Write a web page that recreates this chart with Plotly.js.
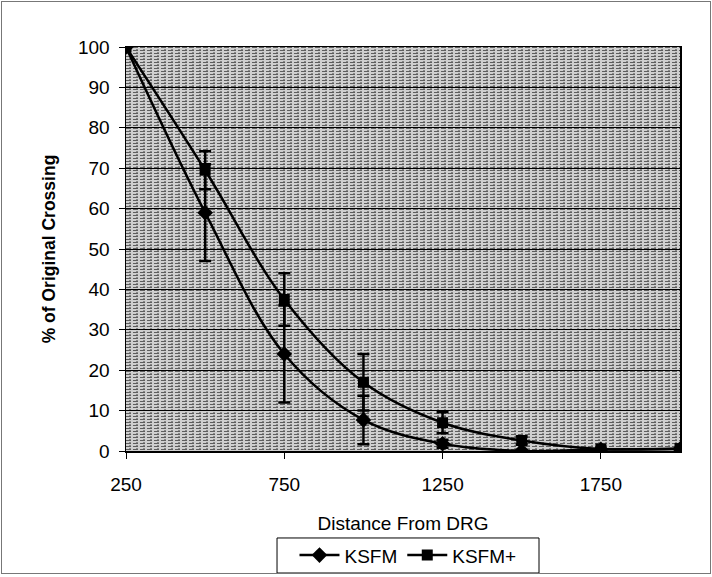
<!DOCTYPE html>
<html>
<head>
<meta charset="utf-8">
<script src="https://cdn.plot.ly/plotly-3.0.1.min.js"></script>
<style>
  html, body { margin: 0; padding: 0; background: #fff; }
  #wrap { position: relative; width: 712px; height: 577px; }
  #chart { width: 712px; height: 577px; }
  #frame { position: absolute; left: 1px; top: 1px; width: 708px; height: 571px;
           border: 1px solid #777; pointer-events: none; }
</style>
</head>
<body>
<div id="wrap"><div id="chart"></div><div id="frame"></div></div>
<script>
// ---- data ----
const distance = [250, 500, 750, 1000, 1250, 1500, 1750, 2000];
const ksfm = [100, 59, 24, 7.7, 1.8, 0, 0.4, 0.5];
const ksfmErr = [0, 12, 12, 6, 1, 0.3, 0, 0];
const ksfmPlus = [100, 69.5, 37.5, 17, 7, 2.6, 0.5, 0.6];
const ksfmPlusErr = [0, 4.7, 6.5, 7, 2.6, 1, 0, 0];
const xTickVals = [250, 750, 1250, 1750];
const seriesNames = ['KSFM', 'KSFM+'];

const FONT = 'Arial, "Liberation Sans", sans-serif';

// stippled grey background texture (style only)
function bgTexture() {
  let s = '<svg xmlns="http://www.w3.org/2000/svg" width="554" height="404">' +
          '<defs><pattern id="p" width="7" height="3" patternUnits="userSpaceOnUse">' +
          '<rect width="7" height="3" fill="#cfcfcf"/>' +
          '<rect x="0" y="0" width="5" height="1" fill="#5e5e5e"/>' +
          '<rect x="3" y="2" width="2" height="1" fill="#868686"/>' +
          '</pattern></defs>' +
          '<rect width="554" height="404" fill="url(#p)"/></svg>';
  return 'data:image/svg+xml;base64,' + btoa(s);
}

const traces = [
  {
    x: distance, y: ksfm, name: seriesNames[0], type: 'scatter', mode: 'lines+markers',
    line: { color: '#000', width: 2.5, shape: 'spline', smoothing: 1 },
    marker: { symbol: 'diamond', size: 12, color: '#000' },
    error_y: { type: 'data', array: ksfmErr, visible: true, color: '#000', thickness: 2.5, width: 6 }
  },
  {
    x: distance, y: ksfmPlus, name: seriesNames[1], type: 'scatter', mode: 'lines+markers',
    line: { color: '#000', width: 2.5, shape: 'spline', smoothing: 1 },
    marker: { symbol: 'square', size: 11, color: '#000' },
    error_y: { type: 'data', array: ksfmPlusErr, visible: true, color: '#000', thickness: 2.5, width: 6 }
  }
];

const layout = {
  width: 712, height: 577,
  margin: { l: 126, r: 32, t: 47, b: 126, autoexpand: false },
  paper_bgcolor: '#fff',
  plot_bgcolor: '#b4b4b4',
  font: { family: FONT, size: 19, color: '#000' },
  showlegend: true,
  legend: {
    orientation: 'h', x: 0.509, xanchor: 'center', y: -0.258, yanchor: 'middle',
    bgcolor: 'rgba(0,0,0,0)', borderwidth: 0,
    font: { family: FONT, size: 19, color: '#000' },
    itemwidth: 40, tracegroupgap: 0
  },
  xaxis: {
    range: [250, 2000], tickmode: 'array', tickvals: xTickVals,
    ticktext: xTickVals.map(String),
    ticks: 'outside', ticklen: 6, tickcolor: '#000', tickwidth: 1,
    ticklabelstandoff: 10,
    showgrid: false, zeroline: false, automargin: false,
    showline: true, linecolor: '#000', linewidth: 1.5, mirror: true,
    tickfont: { family: FONT, size: 19, color: '#000' },
    title: { text: 'Distance From DRG', font: { family: FONT, size: 19, color: '#000' }, standoff: 22 }
  },
  yaxis: {
    range: [0, 100], dtick: 10, tick0: 0,
    ticks: 'outside', ticklen: 6, tickcolor: '#000', tickwidth: 1,
    ticklabelstandoff: 5, automargin: false,
    showgrid: true, gridcolor: '#000', gridwidth: 1,
    zeroline: false,
    showline: true, linecolor: '#000', linewidth: 1.5, mirror: true,
    tickfont: { family: FONT, size: 19, color: '#000' },
    title: { text: '<b>% of Original Crossing</b>', font: { family: FONT, size: 17.5, color: '#000' }, standoff: 18 }
  },
  shapes: [{
    type: 'rect', xref: 'paper', yref: 'paper',
    x0: 0.2726, x1: 0.7455, y0: -0.302, y1: -0.2153,
    line: { color: '#000', width: 1 }, fillcolor: 'rgba(0,0,0,0)', layer: 'above'
  }],
  images: [{
    source: bgTexture(), xref: 'paper', yref: 'paper', x: 0, y: 1,
    sizex: 1, sizey: 1, xanchor: 'left', yanchor: 'top', sizing: 'stretch',
    layer: 'below', opacity: 1
  }]
};

Plotly.newPlot('chart', traces, layout, { displayModeBar: false, staticPlot: true });
</script>
</body>
</html>
